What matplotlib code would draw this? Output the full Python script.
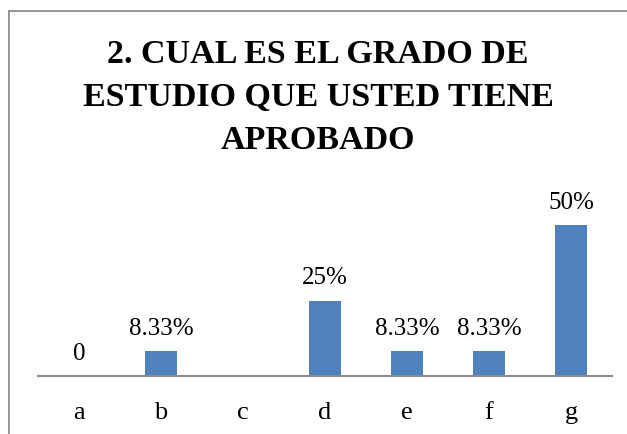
import matplotlib
matplotlib.use("Agg")
import matplotlib.pyplot as plt
from matplotlib.patches import Rectangle

categories = ["a", "b", "c", "d", "e", "f", "g"]
values = [0, 0.0833, 0, 0.25, 0.0833, 0.0833, 0.50]
labels = ["0", "8.33%", "", "25%", "8.33%", "8.33%", "50%"]
title = "2. CUAL ES EL GRADO DE\nESTUDIO QUE USTED TIENE\nAPROBADO"

W, H = 627, 434
fig = plt.figure(figsize=(W / 100, H / 100), dpi=100)
fig.patch.set_facecolor("white")

# chart border (cropped at right and bottom)
fig.add_artist(Rectangle((9 / W, -0.1), 1.2, (H - 11) / H + 0.1, transform=fig.transFigure,
                         fill=False, edgecolor="#8c8c8c", linewidth=1.3))

ax = fig.add_axes([38 / W, (H - 376) / H, (612 - 38) / W, 181 / H])
x = list(range(len(categories)))
ax.bar(x, values, width=0.4, color="#4F81BD")
ax.set_xlim(-0.5, len(categories) - 0.5)
ax.set_ylim(0, 0.60)
for s in ["top", "right", "left"]:
    ax.spines[s].set_visible(False)
ax.spines["bottom"].set_color("#8c8c8c")
ax.spines["bottom"].set_linewidth(1.5)
ax.set_yticks([])
ax.set_xticks(x)
ax.set_xticklabels(categories, family="Liberation Serif", fontsize=19)
ax.tick_params(axis="x", length=0, pad=18.5)
ax.set_facecolor("none")

for xi, v, lab in zip(x, values, labels):
    if lab:
        ax.annotate(lab, (xi, v), xytext=(0, 8), textcoords="offset points",
                    ha="center", va="bottom", family="Liberation Serif", fontsize=18)

fig.text(0.5 * (9 + W) / W, (H - 39) / H, title, ha="center", va="top",
         family="Liberation Serif", fontweight="bold", fontsize=24.5, linespacing=1.5)

fig.savefig("out.png", dpi=100)
